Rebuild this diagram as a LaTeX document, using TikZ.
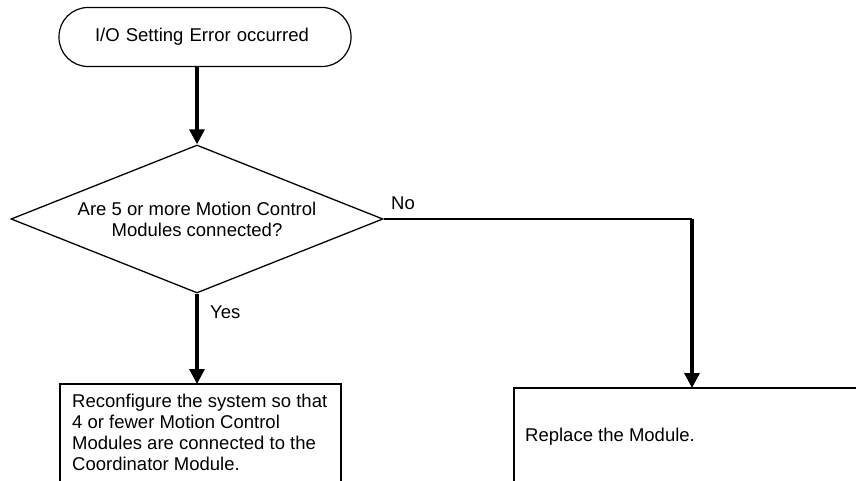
\documentclass[tikz,border=0pt]{standalone}
\usepackage{fontspec}
\setmainfont{Liberation Sans}
\usetikzlibrary{shapes.geometric,arrows.meta}
\begin{document}
\begin{tikzpicture}[x=1pt,y=-1pt,
  every node/.style={font=\fontsize{18.5}{21}\selectfont, text=black},
  thinline/.style={line width=1.2pt, draw=black},
  flow/.style={line width=3.2pt, draw=black, -{Triangle[width=15pt,length=15pt]}},
  startbox/.style={draw=black, line width=1.2pt, rounded corners=29pt, minimum height=59pt, text width=292pt, inner xsep=0pt, align=left},
  decision/.style={draw=black, line width=1.3pt, diamond, shape aspect=2.5, minimum width=372pt, minimum height=148pt, inner sep=0pt, align=center},
  boxtext/.style={anchor=north west, inner sep=0pt, align=left},
  lbl/.style={anchor=west, inner sep=0pt}
]
\clip (0,0) rectangle (856,481);
\fill[white] (0,0) rectangle (856,481);

\node[startbox] (start) at (205,37) {\hspace*{36pt}I/O Setting Error occurred};
\node[decision] (dec) at (197,219) {Are 5 or more Motion Control\\Modules connected?};

% left action box (open at the bottom edge of the picture)
\coordinate (ltl) at (60,384);
\coordinate (ltr) at (341,384);
\node[boxtext] (ltext) at (72,393.5)
  {Reconfigure the system so that\\4 or fewer Motion Control\\Modules are connected to the\\Coordinator Module.};

% right action box
\coordinate (rtl) at (514,388);
\coordinate (rtr) at (900,388);
\node[lbl] (rtext) at (525,437) {Replace the Module.};

\coordinate (bot) at (0,500);
\coordinate (nc) at (692,219);

\draw[thinline] (ltl |- bot) -- (ltl) -- (ltr) -- (ltr |- bot);
\draw[thinline] (rtl |- bot) -- (rtl) -- (rtr);

\draw[flow] (start.south -| dec.north) -- (dec.north);
\draw[flow] (dec.south) -- (dec.south |- ltl);
\draw[line width=1.6pt] (dec.east) -- (nc);
\draw[flow] (nc) -- (nc |- rtl);

\node[lbl] (yes) at (210,312) {Yes};
\node[lbl] (no) at (391,203) {No};
\end{tikzpicture}
\end{document}
